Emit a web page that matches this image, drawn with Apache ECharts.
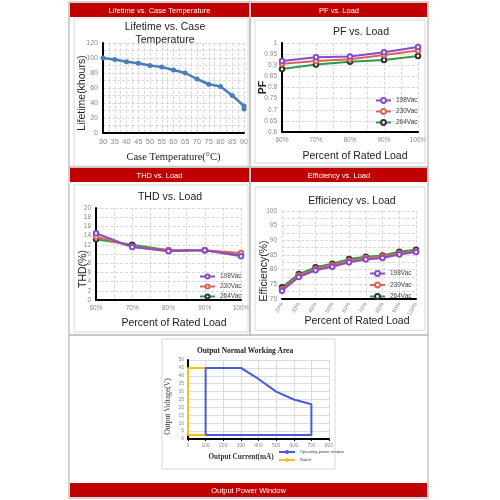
<!DOCTYPE html>
<html><head><meta charset="utf-8">
<script src="https://cdn.jsdelivr.net/npm/echarts@6/dist/echarts.min.js"></script>
<style>html,body{margin:0;padding:0;background:#fff}#c{width:500px;height:500px}</style>
</head><body><div id="c"></div>
<script>
// ---- data ----
const lifeTemp = [30,35,40,45,50,55,60,65,70,75,80,85,90,90];
const lifeHours = [100,98,95,93,90,88,84,80,72,65,62,50,36,32];
const pfLoad = [60,70,80,90,100];
const pf198 = [0.919,0.936,0.939,0.958,0.982];
const pf230 = [0.907,0.919,0.927,0.946,0.966];
const pf264 = [0.883,0.903,0.916,0.924,0.942];
const thdLoad = [60,70,80,90,100];
const thd198 = [14.5,11.5,10.6,10.8,9.5];
const thd230 = [13.8,11.6,10.8,10.8,10.2];
const thd264 = [13.2,12.0,10.8,10.8,9.8];
const effLoad = ['20%','30%','40%','50%','60%','70%','80%','90%','100%'];
const eff198 = [72.8,77.5,79.8,81.0,82.5,83.5,84.0,85.2,86.0];
const eff230 = [73.2,78.0,80.2,81.5,83.0,84.0,84.5,85.6,86.3];
const eff264 = [74.0,78.5,80.8,82.0,83.6,84.4,84.8,86.1,86.8];
const owCurrent = [100,100,300,400,500,600,700,700,100];
const owVoltage = [2.5,45,45,38,30,25,22,2.5,2.5];
const ratedCurrent = [100,0,0,100];
const ratedVoltage = [45,45,2.5,2.5];
const vacNames = ['198Vac','230Vac','264Vac'];
const headerTexts = ['Lifetime vs. Case Temperature','PF vs. Load','THD vs. Load','Efficiency vs. Load','Output Power Window'];
const chartTitles = ['Lifetime vs. Case\nTemperature','PF vs. Load','THD vs. Load','Efficiency vs. Load','Output Normal Working Area'];

// ---- styles ----
const SANS = 'Liberation Sans, Arial, sans-serif';
const SERIF = 'Liberation Serif, Times New Roman, serif';
const vacLine = ['#8a4cc4','#d9645a','#2f9a48'];
const vacSym = ['#8a4cc4','#d9645a','#333333'];
const pair = (xs, ys) => xs.map((x,i)=>[x, ys[i]]);

const axLine = {lineStyle:{color:'#000', width:2}};
const lbl = (fs) => ({color:'#8c8c8c', fontSize:fs, fontFamily:SANS, margin:5});
const dashed = {show:true, lineStyle:{color:'#cfcfcf', type:'dashed', width:0.8}};

function vacSeries(names, xi, yi, dataArr){
  return dataArr.map((d,k)=>({
    name:names[k], type:'line', xAxisIndex:xi, yAxisIndex:yi, data:d,
    symbol:'emptyCircle', symbolSize:4.5,
    lineStyle:{color:vacLine[k], width:2},
    itemStyle:{color:vacSym[k], borderWidth:1},
    z: 3 + (2-k)
  }));
}

const chart = echarts.init(document.getElementById('c'), null, {renderer:'canvas'});

const graphics = [];
const panels = [[69,2,181,165],[250,2,178,165],[69,167,181,168],[250,167,178,168],[69,335,359,163]];
panels.forEach(p=>graphics.push({type:'rect', shape:{x:p[0],y:p[1],width:p[2],height:p[3]}, style:{fill:'none', stroke:'#c4c4c4', lineWidth:1.5}, z:1}));
const boxes = [[74,18,174,148],[255,20,170,143],[74,185,174,147],[255,187,170,143],[162,339,173,130]];
boxes.forEach(p=>graphics.push({type:'rect', shape:{x:p[0],y:p[1],width:p[2],height:p[3]}, style:{fill:'none', stroke:'#d8d8d8', lineWidth:1}, z:1}));
const heads = [[70,3,179,14],[251,3,176,14],[70,168,179,14],[251,168,176,14],[70,483,357,14]];
heads.forEach((h,i)=>{
  graphics.push({type:'rect', shape:{x:h[0],y:h[1],width:h[2],height:h[3]}, style:{fill:'#c00000'}, z:2});
  graphics.push({type:'text', x:h[0]+h[2]/2, y:h[1]+h[3]/2+0.5, style:{text:headerTexts[i], fill:'#fff', fontSize:7.5, fontFamily:SANS, align:'center', verticalAlign:'middle'}, z:3});
});
const tpos = [[165,33.5,10.5,SANS,'normal'],[361,32,10.5,SANS,'normal'],[170,197,10.5,SANS,'normal'],[352,201,10.5,SANS,'normal'],[245,351,7.4,SERIF,'bold']];
tpos.forEach((t,i)=>graphics.push({type:'text', x:t[0], y:t[1], style:{text:chartTitles[i], fill:'#222', fontSize:t[2], fontFamily:t[3], fontWeight:t[4], align:'center', verticalAlign:'middle', lineHeight:13}, z:3}));

const nm = {nameLocation:'middle', nameMoveOverlap:false};
const option = {
  animation:false,
  backgroundColor:'#fff',
  graphic: graphics,
  grid:[
    {left:103, top:43, width:141, height:90},
    {left:282, top:43, width:136, height:89},
    {left:96, top:208, width:145, height:92},
    {left:282, top:211, width:134, height:88},
    {left:188, top:360, width:141, height:79}
  ],
  xAxis:[
    Object.assign({gridIndex:0, type:'value', min:30, max:90, interval:5, axisLine:axLine, axisTick:{show:false}, axisLabel:lbl(7.5),
     splitLine:dashed, minorTick:{show:false, splitNumber:2}, minorSplitLine:dashed,
     name:'Case Temperature(\u00b0C)', nameGap:18.5, nameTextStyle:{fontFamily:SERIF, fontSize:10.5, color:'#222'}}, nm),
    Object.assign({gridIndex:1, type:'value', min:60, max:100, interval:10, axisLine:axLine, axisTick:{show:false}, axisLabel:Object.assign(lbl(6.5),{formatter:'{value}%'}),
     splitLine:dashed, minorTick:{show:false, splitNumber:2}, minorSplitLine:dashed,
     name:'Percent of Rated Load', nameGap:18.5, nameTextStyle:{fontFamily:SANS, fontSize:10.5, color:'#222', padding:[0,0,0,10]}}, nm),
    Object.assign({gridIndex:2, type:'value', min:60, max:100, interval:10, axisLine:axLine, axisTick:{show:false}, axisLabel:Object.assign(lbl(6.5),{formatter:'{value}%'}),
     splitLine:dashed, minorTick:{show:false, splitNumber:2}, minorSplitLine:dashed,
     name:'Percent of Rated Load', nameGap:17.5, nameTextStyle:{fontFamily:SANS, fontSize:10.5, color:'#222', padding:[0,0,0,11]}}, nm),
    Object.assign({gridIndex:3, type:'category', data:effLoad, boundaryGap:false, axisLine:axLine, axisTick:{show:false},
     axisLabel:Object.assign(lbl(5.5),{rotate:60, margin:4, interval:0}), splitLine:dashed,
     name:'Percent of Rated Load', nameGap:17, nameTextStyle:{fontFamily:SANS, fontSize:10.5, color:'#222', padding:[0,0,0,16]}}, nm),
    Object.assign({gridIndex:4, type:'value', min:0, max:800, interval:100, axisLine:axLine, axisTick:{show:true, length:2, lineStyle:{color:'#000'}}, axisLabel:Object.assign(lbl(5),{margin:4}),
     splitLine:{show:true, lineStyle:{color:'#d4d4d4', width:0.8}},
     name:'Output Current(mA)', nameGap:15, nameTextStyle:{fontFamily:SERIF, fontSize:7.2, fontWeight:'bold', color:'#333', padding:[0,35,0,0]}}, nm)
  ],
  yAxis:[
    Object.assign({gridIndex:0, type:'value', min:0, max:120, interval:20, axisLine:axLine, axisTick:{show:false}, axisLabel:lbl(7),
     splitLine:dashed, minorTick:{show:false, splitNumber:2}, minorSplitLine:dashed,
     name:'Lifetime(khours)', nameGap:15, nameTextStyle:{fontFamily:SANS, fontSize:10.5, color:'#222', padding:[0,10,0,0]}}, nm),
    Object.assign({gridIndex:1, type:'value', min:0.6, max:1, interval:0.05, axisLine:axLine, axisTick:{show:false}, axisLabel:lbl(6.5),
     splitLine:dashed,
     name:'PF', nameGap:13, nameTextStyle:{fontFamily:SANS, fontSize:10.5, fontWeight:'bold', color:'#222'}}, nm),
    Object.assign({gridIndex:2, type:'value', min:0, max:20, interval:2, axisLine:axLine, axisTick:{show:false}, axisLabel:lbl(6.5),
     splitLine:dashed,
     name:'THD(%)', nameGap:7, nameTextStyle:{fontFamily:SANS, fontSize:10.5, color:'#222', padding:[0,30,0,0]}}, nm),
    Object.assign({gridIndex:3, type:'value', min:70, max:100, interval:5, axisLine:axLine, axisTick:{show:false}, axisLabel:lbl(6.5),
     splitLine:dashed, minorTick:{show:false, splitNumber:2}, minorSplitLine:dashed,
     name:'Efficiency(%)', nameGap:12, nameTextStyle:{fontFamily:SANS, fontSize:10.5, color:'#222', padding:[0,32,0,0]}}, nm),
    Object.assign({gridIndex:4, type:'value', min:0, max:50, interval:5, axisLine:axLine, axisTick:{show:false}, axisLabel:Object.assign(lbl(5),{margin:4}),
     splitLine:{show:true, lineStyle:{color:'#d4d4d4', width:0.8}},
     name:'Output Voltage(V)', nameGap:16, nameTextStyle:{fontFamily:SERIF, fontSize:7.6, color:'#333', padding:[0,14,0,0]}}, nm)
  ],
  legend:[
    {data:vacNames, orient:'vertical', left:375, top:97, itemWidth:15, itemHeight:6, itemGap:4, textStyle:{fontSize:6.5, color:'#444', fontFamily:SANS}, padding:0},
    {data:vacNames, orient:'vertical', left:199, top:273, itemWidth:15, itemHeight:5, itemGap:3, textStyle:{fontSize:6.5, color:'#444', fontFamily:SANS}, padding:0},
    {data:vacNames, orient:'vertical', left:369, top:270, itemWidth:15, itemHeight:6, itemGap:4.5, textStyle:{fontSize:6.5, color:'#444', fontFamily:SANS}, padding:0},
    {data:['Operating power window','Rated'], orient:'vertical', left:278, top:450, itemWidth:16, itemHeight:5, itemGap:4, textStyle:{fontSize:4, color:'#444', fontFamily:SANS}, padding:0}
  ],
  series:[
    {name:'Lifetime', type:'line', xAxisIndex:0, yAxisIndex:0, data:pair(lifeTemp, lifeHours),
     symbol:'circle', symbolSize:5, lineStyle:{color:'#4a7ebb', width:2.5}, itemStyle:{color:'#4a7ebb'}},
    ...vacSeries(vacNames, 1, 1, [pair(pfLoad,pf198), pair(pfLoad,pf230), pair(pfLoad,pf264)]),
    ...vacSeries(vacNames, 2, 2, [pair(thdLoad,thd198), pair(thdLoad,thd230), pair(thdLoad,thd264)]),
    ...vacSeries(vacNames, 3, 3, [eff198, eff230, eff264]),
    {name:'Operating power window', type:'line', xAxisIndex:4, yAxisIndex:4, data:pair(owCurrent, owVoltage),
     symbol:'none', lineStyle:{color:'#4a5bd8', width:2}, itemStyle:{color:'#4a5bd8'}, z:4},
    {name:'Rated', type:'line', xAxisIndex:4, yAxisIndex:4, data:pair(ratedCurrent, ratedVoltage),
     symbol:'none', lineStyle:{color:'#f3c01c', width:2}, itemStyle:{color:'#f3c01c'}, z:3}
  ]
};
chart.setOption(option);
</script>
</body></html>
